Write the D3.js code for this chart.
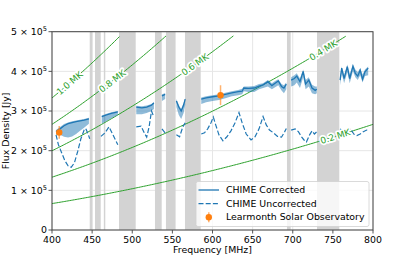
<!DOCTYPE html>
<html>
<head>
<meta charset="utf-8">
<script src="https://cdn.jsdelivr.net/npm/d3@7"></script>
<style>
  body { margin: 0; background: #fff; }
  text { font-family: "DejaVu Sans", sans-serif; }
</style>
</head>
<body>
<svg id="chart" width="415" height="264"></svg>
<script>
// Valori in unità di 1e5 Jy, null = dato mascherato (RFI)
var corrFreq = [405, 410, 415, 420, 425, 430, 435, 440, 446, null,
    462, 468, 474, 482, null,
    505, 512, 518, 524, 527, null,
    537, 541, null,
    555, 558, 561, 564, 566, null,
    586, 592, 600, 608, 616, 624, 632, 637, 639, 645, 652, 658, 663, 669, 674, 678, 682, 686, 689, 692, null,
    698, 702, 705, 709, 713, 716, 720, 724, 728, 730, null,
    759, 761, 764, 768, 771, 775, 778, 781, 784, 787, 790, 794];
var corrMid = [2.48, 2.55, 2.63, 2.68, 2.71, 2.73, 2.75, 2.77, 2.80, null,
    2.86, 2.90, 2.94, 2.98, null,
    3.10, 3.08, 3.10, 3.15, 3.20, null,
    3.38, 3.42, null,
    3.25, 3.10, 3.00, 3.15, 3.30, null,
    3.30, 3.33, 3.36, 3.38, 3.42, 3.46, 3.49, 3.50, 3.58, 3.57, 3.58, 3.63, 3.66, 3.74, 3.64, 3.70, 3.76, 3.62, 3.58, 3.68, null,
    3.78, 3.82, 3.88, 3.74, 4.00, 3.68, 3.78, 3.58, 3.52, 3.55, null,
    3.78, 4.08, 3.82, 4.12, 3.82, 4.13, 3.95, 3.88, 4.03, 3.80, 3.99, 4.08];
var corrLow = [2.40, 2.40, 2.35, 2.33, 2.36, 2.42, 2.50, 2.58, 2.68, null,
    2.68, 2.75, 2.82, 2.90, null,
    2.92, 2.92, 2.95, 3.00, 3.05, null,
    3.25, 3.30, null,
    3.10, 2.90, 2.80, 2.95, 3.15, null,
    3.18, 3.22, 3.25, 3.28, 3.32, 3.37, 3.40, 3.42, 3.50, 3.48, 3.48, 3.55, 3.58, 3.62, 3.55, 3.60, 3.65, 3.52, 3.45, 3.55, null,
    3.62, 3.65, 3.72, 3.58, 3.85, 3.55, 3.62, 3.45, 3.42, 3.45, null,
    3.65, 3.95, 3.70, 3.98, 3.70, 4.00, 3.85, 3.78, 3.90, 3.72, 3.88, 3.90];
var corrHigh = [2.52, 2.60, 2.67, 2.71, 2.74, 2.76, 2.78, 2.80, 2.83, null,
    2.89, 2.93, 2.97, 3.00, null,
    3.13, 3.12, 3.14, 3.18, 3.23, null,
    3.42, 3.45, null,
    3.30, 3.15, 3.05, 3.20, 3.33, null,
    3.34, 3.37, 3.40, 3.42, 3.46, 3.50, 3.53, 3.56, 3.62, 3.62, 3.63, 3.68, 3.70, 3.78, 3.70, 3.76, 3.80, 3.68, 3.65, 3.72, null,
    3.85, 3.90, 3.95, 3.82, 4.05, 3.78, 3.85, 3.66, 3.62, 3.62, null,
    3.85, 4.12, 3.90, 4.17, 3.92, 4.18, 4.05, 3.98, 4.08, 3.92, 4.05, 4.12];

var uncFreq = [405, 408, 412, 416, 420, 424, 428, 432, 436, 440, 442, 445, 447, null,
    461, 466, 471, 476, 482, null,
    505, 511, 515, 518, 521, 524, 527, null,
    537, 541, null,
    555, 559, 563, 566, null,
    586, 590, 594, 598, 601, 604, 608, 613, 618, 623, 628, 633, 637, 642, 648, 653, 658, 663, 667, 671, 676, 681, 686, 690, 692, null,
    698, 703, 707, 711, 714, 717, 721, 724, 727, 730, null,
    759, 764, 768, 772, 776, 780, 784, 788, 792, 795];
var uncVal = [2.40, 2.15, 1.95, 1.75, 1.62, 1.58, 1.70, 1.98, 2.30, 2.52, 2.56, 2.42, 2.30, null,
    2.36, 2.45, 2.60, 2.40, 2.15, null,
    2.60, 2.62, 2.45, 2.34, 2.60, 3.00, 2.85, null,
    2.55, 2.45, null,
    2.40, 2.35, 2.60, 2.70, null,
    2.42, 2.45, 2.55, 2.70, 2.85, 2.65, 2.40, 2.25, 2.35, 2.50, 2.70, 2.96, 2.70, 2.42, 2.27, 2.35, 2.55, 2.86, 2.65, 2.52, 2.45, 2.36, 2.34, 2.48, 2.56, null,
    2.52, 2.55, 2.48, 2.35, 2.27, 2.22, 2.40, 2.50, 2.42, 2.48, null,
    2.55, 2.47, 2.52, 2.55, 2.42, 2.38, 2.42, 2.48, 2.52, 2.50];

// Learmonth
var learFreq = [409, 610];
var learVal = [2.46, 3.40];
var learErr = [0.16, 0.25];

// Bande RFI escluse
var rfiBands = [[447, 450.3], [453.6, 460.7], [464.6, 466.4], [483.5, 504.3], [528.3, 536.7],
    [542, 554], [565.7, 585.3], [692.8, 697.4], [730.2, 758]];

// Curve di temperatura di brillanza (Rayleigh-Jeans), etichette
var tempMK = [1.0, 0.8, 0.6, 0.4, 0.2];
var tempLabelFreq = [422, 475, 578, 738, 753];
var fluxPerMK400 = 3.33; // 1e5 Jy per MK a 400 MHz per il disco solare

var xTicks = [400, 450, 500, 550, 600, 650, 700, 750, 800];
var yTicks = [0, 1, 2, 3, 4, 5];

var svg = d3.select('#chart');
var pLeft = 52, pRight = 373, pTop = 31.7, pBottom = 230;

var x = d3.scaleLinear().domain([400, 800]).range([pLeft, pRight]);
var y = d3.scaleLinear().domain([0, 5]).range([pBottom, pTop]);

var blue = '#1f77b4', orange = '#ff7f0e', green = '#2ca02c';
var fs = 9.4;

svg.append('defs').append('clipPath').attr('id', 'plotClip')
    .append('rect').attr('x', pLeft).attr('y', pTop).attr('width', pRight - pLeft).attr('height', pBottom - pTop);

// Griglia
var grid = svg.append('g');
grid.selectAll('.gx').data(xTicks).enter().append('line')
    .attr('x1', d => x(d)).attr('x2', d => x(d)).attr('y1', pTop).attr('y2', pBottom)
    .attr('stroke', '#e6e6e6').attr('stroke-width', 1);
grid.selectAll('.gy').data(yTicks).enter().append('line')
    .attr('x1', pLeft).attr('x2', pRight).attr('y1', d => y(d)).attr('y2', d => y(d))
    .attr('stroke', '#e6e6e6').attr('stroke-width', 1);

var plot = svg.append('g').attr('clip-path', 'url(#plotClip)');

// Bande grigie
plot.selectAll('.band').data(rfiBands).enter().append('rect')
    .attr('x', d => x(d[0])).attr('width', d => x(d[1]) - x(d[0]))
    .attr('y', pTop).attr('height', pBottom - pTop)
    .attr('fill', '#d3d3d3');

// Linee di temperatura
var tempLine = d3.line().x(d => x(d[0])).y(d => y(d[1]));
tempMK.forEach(function (t) {
    var pts = [];
    for (var f = 400; f <= 800; f += 2) {
        var s = fluxPerMK400 * t * (f / 400) * (f / 400);
        if (s > 4.9) break;
        pts.push([f, s]);
    }
    plot.append('path').attr('d', tempLine(pts))
        .attr('fill', 'none').attr('stroke', green).attr('stroke-width', 1);
});

// Banda di errore CHIME corretto
var corrRows = corrFreq.map((f, i) => ({ f: f, m: corrMid[i], lo: corrLow[i], hi: corrHigh[i] }));
plot.append('path')
    .attr('d', d3.area().defined(d => d.f !== null)
        .x(d => x(d.f)).y0(d => y(d.lo)).y1(d => y(d.hi))(corrRows))
    .attr('fill', blue).attr('fill-opacity', 0.5);

plot.append('path')
    .attr('d', d3.line().defined(d => d.f !== null)
        .x(d => x(d.f)).y(d => y(d.m))(corrRows))
    .attr('fill', 'none').attr('stroke', blue).attr('stroke-width', 1.3);

var uncRows = uncFreq.map((f, i) => ({ f: f, v: uncVal[i] }));
plot.append('path')
    .attr('d', d3.line().defined(d => d.f !== null)
        .x(d => x(d.f)).y(d => y(d.v))(uncRows))
    .attr('fill', 'none').attr('stroke', blue).attr('stroke-width', 1.2)
    .attr('stroke-dasharray', '5,2.2');

// Etichette temperature
tempMK.forEach(function (t, i) {
    var f0 = tempLabelFreq[i];
    var s0 = fluxPerMK400 * t * (f0 / 400) * (f0 / 400);
    var s1 = fluxPerMK400 * t * ((f0 + 1) / 400) * ((f0 + 1) / 400);
    var ang = Math.atan2(y(s1) - y(s0), x(f0 + 1) - x(f0)) * 180 / Math.PI;
    svg.append('text')
        .attr('transform', `translate(${x(f0)},${y(s0)}) rotate(${ang})`)
        .attr('text-anchor', 'middle').attr('dy', '0.35em')
        .attr('font-size', 9).attr('fill', green)
        .attr('stroke', '#fff').attr('stroke-width', 3.5).attr('stroke-linejoin', 'round')
        .attr('paint-order', 'stroke')
        .text(t.toFixed(1) + ' MK');
});

// Learmonth
var lear = svg.append('g');
learFreq.forEach(function (f, i) {
    lear.append('line')
        .attr('x1', x(f)).attr('x2', x(f))
        .attr('y1', y(learVal[i] - learErr[i])).attr('y2', y(learVal[i] + learErr[i]))
        .attr('stroke', orange).attr('stroke-width', 1.5).attr('stroke-opacity', 0.6);
    lear.append('circle').attr('cx', x(f)).attr('cy', y(learVal[i])).attr('r', 3.2).attr('fill', orange);
});

// Assi
var axes = svg.append('g');
axes.append('rect').attr('x', pLeft).attr('y', pTop).attr('width', pRight - pLeft).attr('height', pBottom - pTop)
    .attr('fill', 'none').attr('stroke', '#444').attr('stroke-width', 1);
axes.selectAll('.tx').data(xTicks).enter().append('line')
    .attr('x1', d => x(d)).attr('x2', d => x(d)).attr('y1', pBottom).attr('y2', pBottom + 3.5)
    .attr('stroke', '#444').attr('stroke-width', 0.9);
axes.selectAll('.lx').data(xTicks).enter().append('text')
    .attr('x', d => x(d)).attr('y', 243).attr('text-anchor', 'middle')
    .attr('font-size', fs).attr('fill', '#000').text(d => d);
axes.selectAll('.ty').data(yTicks).enter().append('line')
    .attr('x1', pLeft - 3.5).attr('x2', pLeft).attr('y1', d => y(d)).attr('y2', d => y(d))
    .attr('stroke', '#444').attr('stroke-width', 0.9);
var yl = axes.selectAll('.ly').data(yTicks).enter().append('text')
    .attr('x', 47).attr('y', d => y(d)).attr('dy', '0.35em').attr('text-anchor', 'end')
    .attr('font-size', fs).attr('fill', '#000');
yl.each(function (d) {
    var t = d3.select(this);
    if (d === 0) { t.text('0'); return; }
    t.append('tspan').text(d + ' \u00d7 10');
    t.append('tspan').attr('dy', -3.6).attr('font-size', 6.6).text('5');
});

svg.append('text').attr('x', (pLeft + pRight) / 2).attr('y', 252.5).attr('text-anchor', 'middle')
    .attr('font-size', fs).text('Frequency [MHz]');
svg.append('text').attr('transform', `translate(8.5,${(pTop + pBottom) / 2}) rotate(-90)`)
    .attr('text-anchor', 'middle').attr('font-size', fs).text('Flux Density [Jy]');

// Legenda
var lg = svg.append('g');
lg.append('rect').attr('x', 196).attr('y', 181.5).attr('width', 173).attr('height', 45).attr('rx', 2)
    .attr('fill', '#fff').attr('fill-opacity', 0.8).attr('stroke', '#d0d0d0').attr('stroke-width', 0.8);
var legendRows = ['CHIME Corrected', 'CHIME Uncorrected', 'Learmonth Solar Observatory'];
legendRows.forEach(function (name, i) {
    var ly = 190 + i * 13.6;
    if (i < 2) {
        lg.append('line').attr('x1', 198.5).attr('x2', 219).attr('y1', ly).attr('y2', ly)
            .attr('stroke', blue).attr('stroke-width', i === 0 ? 1.3 : 1.2)
            .attr('stroke-dasharray', i === 1 ? '5,2.2' : null);
    } else {
        lg.append('line').attr('x1', 208.8).attr('x2', 208.8).attr('y1', ly - 5).attr('y2', ly + 5)
            .attr('stroke', orange).attr('stroke-width', 1.5).attr('stroke-opacity', 0.6);
        lg.append('circle').attr('cx', 208.8).attr('cy', ly).attr('r', 3.2).attr('fill', orange);
    }
    lg.append('text').attr('x', 226).attr('y', ly).attr('dy', '0.35em')
        .attr('font-size', fs).text(name);
});
</script>
</body>
</html>
